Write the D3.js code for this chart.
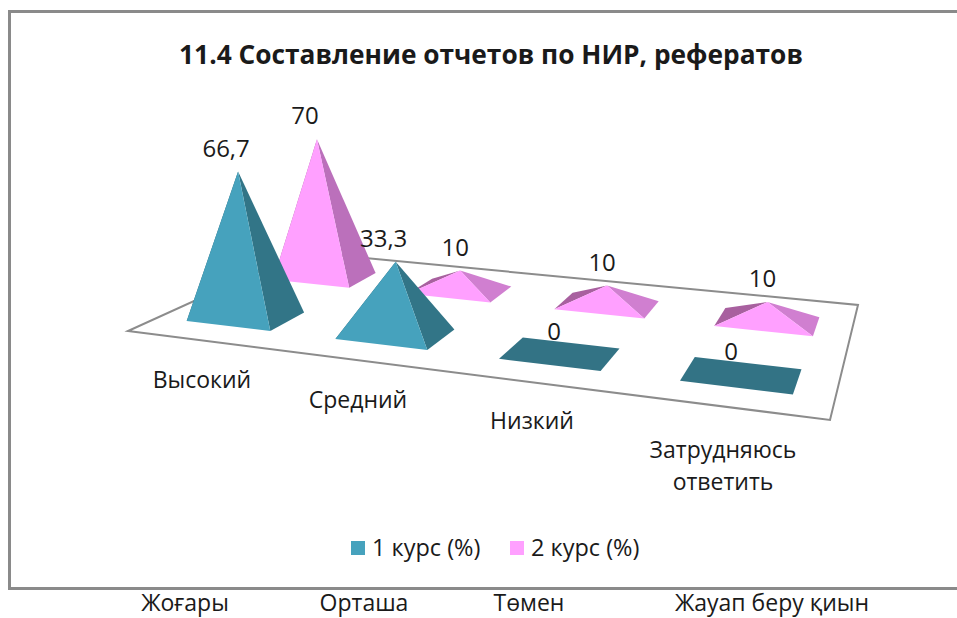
<!DOCTYPE html>
<html><head><meta charset="utf-8">
<script src="https://cdnjs.cloudflare.com/ajax/libs/d3/7.9.0/d3.min.js"></script>
<style>html,body{margin:0;padding:0;background:#fff;overflow:hidden}svg{display:block}text{font-family:"Open Sans",sans-serif;fill:#1a1a1a}</style>
</head><body><svg id="c" width="957" height="618"></svg>
<script>
const categories=["Высокий","Средний","Низкий","Затрудняюсь ответить"];
const outerLabels=["Жоғары","Орташа","Төмен","Жауап беру қиын"];
const series=["1 курс (%)","2 курс (%)"];
const values1=[66.7,33.3,0,0];
const values2=[70,10,10,10];
const labels1=["66,7","33,3","0","0"];
const labels2=["70","10","10","10"];
const title="11.4 Составление отчетов по НИР, рефератов";

const svg=d3.select("#c");
svg.append("rect").attr("x",9.5).attr("y",11.5).attr("width",960).attr("height",577).attr("fill","#fff").attr("stroke","#8a8a8a").attr("stroke-width",3);

const P00=[128,331],P10=[830,420],P11=[858,305],P01=[302,252];
function homography(a,b,c,d){
  const dx1=b[0]-c[0],dx2=d[0]-c[0],sx=a[0]-b[0]+c[0]-d[0];
  const dy1=b[1]-c[1],dy2=d[1]-c[1],sy=a[1]-b[1]+c[1]-d[1];
  const den=dx1*dy2-dx2*dy1;
  const g=(sx*dy2-dx2*sy)/den,h=(dx1*sy-sx*dy1)/den;
  const A=b[0]-a[0]+g*b[0],B=d[0]-a[0]+h*d[0],C=a[0];
  const D=b[1]-a[1]+g*b[1],E=d[1]-a[1]+h*d[1],F=a[1];
  return (u,v)=>{const w=g*u+h*v+1;return [(A*u+B*v+C)/w,(D*u+E*v+F)/w];};
}
const floor=homography(P00,P10,P11,P01);
const xBand=d3.scaleBand().domain(categories).range([0.0515,0.9485]).paddingInner(0.426).paddingOuter(0);
const zBand=d3.scaleBand().domain(series).range([0.14,0.825]).paddingInner(0.602).paddingOuter(0);
const hScale=d3.scaleLinear().domain([0,70]).range([0,140]);
const persp=d3.scaleLinear().domain([0,1]).range([1.14,0.92]);

svg.append("polygon").attr("points",[P00,P10,P11,P01].join(" ")).attr("fill","#fff").attr("stroke","#8c8c8c").attr("stroke-width",2);

const palette={
 "1 курс (%)":{front:"#46a2bd",right:"#327587",left:"#2a6070",flat:"#337385"},
 "2 курс (%)":{front:"#ffa0ff",right:"#bb70bb",left:"#a8609f",low:"#d07fd0"}};
const path=p=>"M"+p.map(q=>q[0].toFixed(1)+","+q[1].toFixed(1)).join("L")+"Z";

function drawPyramid(cat,ser,val,lab){
  const u0=xBand(cat),u1=u0+xBand.bandwidth();
  const v0=zBand(ser),v1=v0+zBand.bandwidth();
  const FL=floor(u0,v0),FR=floor(u1,v0),RB=floor(u1,v1),BL=floor(u0,v1);
  const c=floor((u0+u1)/2,(v0+v1)/2);
  const h=hScale(val)*persp((v0+v1)/2);
  const apex=[c[0]-(h>100?8:0),c[1]-h];
  const col=palette[ser];
  const g=svg.append("g");
  let lx,ly;
  if(val===0){
    g.append("path").attr("d",path([FL,FR,RB,BL])).attr("fill",col.flat);
    lx=(BL[0]+RB[0])/2-17; ly=BL[1]+3;
  }else{
    g.append("path").attr("d",path([BL,FL,apex])).attr("fill",col.left);
    g.append("path").attr("d",path([RB,FR,apex])).attr("fill",val<20?(col.low||col.right):col.right);
    g.append("path").attr("d",path([FL,FR,apex])).attr("fill",col.front);
    lx=apex[0]-(val<20?5:12); ly=apex[1]-15;
  }
  g.append("text").attr("x",lx).attr("y",ly).attr("text-anchor","middle").attr("font-size",24).text(lab);
}
categories.forEach((c,i)=>drawPyramid(c,series[1],values2[i],labels2[i]));
categories.forEach((c,i)=>drawPyramid(c,series[0],values1[i],labels1[i]));

const catLabelX=[202,358,532,723], catLabelY=[388,408,429,458];
categories.forEach((d,i)=>{
  const s=svg.append("text").attr("font-size",23).attr("text-anchor","middle");
  d.split(" ").forEach((w,k)=>s.append("tspan").attr("x",catLabelX[i]).attr("y",catLabelY[i]+k*32).text(w));
});

svg.append("text").attr("x",491).attr("y",64).attr("text-anchor","middle").attr("font-size",26.3).attr("font-weight",700).attr("fill","#000").text(title);

const legendX=d3.scaleOrdinal().domain(series).range([351,510]);
series.forEach(s=>{
  svg.append("rect").attr("x",legendX(s)).attr("y",541).attr("width",14).attr("height",14).attr("fill",palette[s].front);
  svg.append("text").attr("x",legendX(s)+21).attr("y",556).attr("font-size",23.5).text(s);
});
const outerX=d3.scaleOrdinal().domain(outerLabels).range([185,364,529,772]);
outerLabels.forEach(t=>svg.append("text").attr("x",outerX(t)).attr("y",611).attr("text-anchor","middle").attr("font-size",23).text(t));
</script></body></html>
